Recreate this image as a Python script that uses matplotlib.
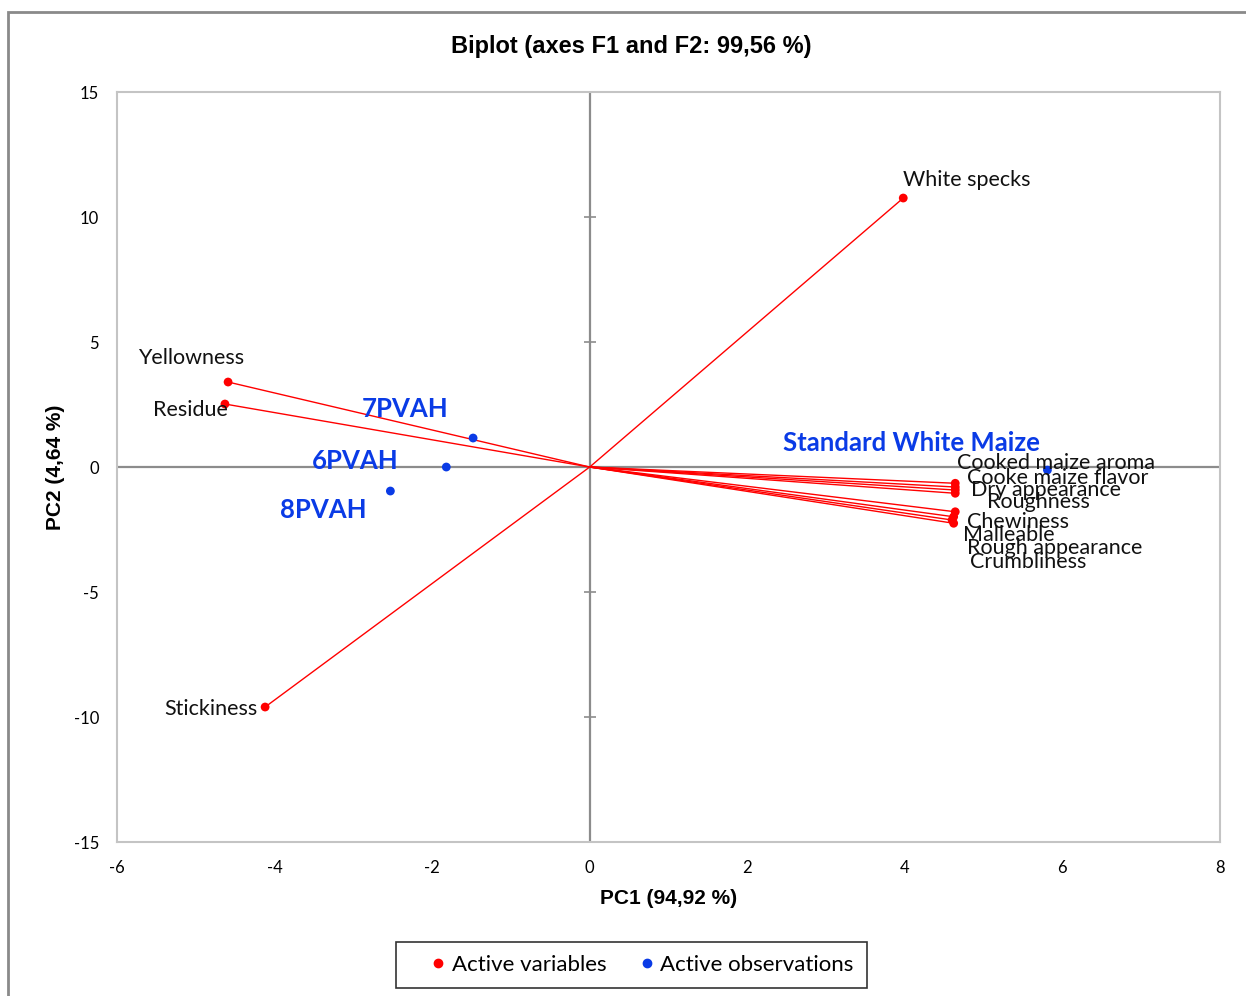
import matplotlib
matplotlib.use("Agg")
from matplotlib import pyplot as plt
from matplotlib.lines import Line2D
from matplotlib.patches import Rectangle

plt.rcParams["axes.unicode_minus"] = False

# Variable loadings (PC1, PC2)
variables = ["White specks", "Yellowness", "Residue", "Stickiness",
             "Cooked maize aroma", "Cooke maize flavor", "Dry appearance", "Roughness",
             "Chewiness", "Malleable", "Rough appearance", "Crumbliness"]
var_pc1 = [3.98, -4.59, -4.63, -4.12, 4.64, 4.64, 4.64, 4.64, 4.64, 4.62, 4.60, 4.62]
var_pc2 = [10.76, 3.40, 2.52, -9.60, -0.65, -0.80, -0.92, -1.05, -1.79, -1.99, -2.12, -2.25]

# Observation scores
observations = ["7PVAH", "6PVAH", "8PVAH", "Standard White Maize"]
obs_pc1 = [-1.48, -1.82, -2.53, 5.81]
obs_pc2 = [1.16, 0.0, -0.96, -0.12]

# label offsets in pixels from each point
var_offsets = [(0, 18), (-37, 24), (-34, -6), (-8, -2),
               (2, 20), (12, 9), (16, 0), (32, -9),
               (12, -10), (9, -18), (15, -28), (16, -39)]
var_ha = ["left", "center", "center", "right"] + ["left"] * 8
obs_offsets = [(-68, 29), (-91, 6), (-67, -19), (-136, 27)]

RED = "#FF0000"
BLUE = "#0A3BE6"
lbl_font = "Lato"

fig = plt.figure(figsize=(12.46, 9.96), dpi=100)
ax = fig.add_axes([0.0939, 0.1546, 0.8852, 0.753])

ax.set_xlim(-6, 8)
ax.set_ylim(-15, 15)
ax.set_xticks(range(-6, 9, 2))
ax.set_yticks(range(-15, 16, 5))
ax.tick_params(length=0, pad=13, labelsize=12)
for t in ax.get_xticklabels() + ax.get_yticklabels():
    t.set_fontfamily(lbl_font)
for s in ax.spines.values():
    s.set_color("#C4C4C4")
    s.set_linewidth(1.5)

# zero axes with small ticks
ax.axhline(0, color="#8C8C8C", lw=1.6, zorder=1)
ax.axvline(0, color="#8C8C8C", lw=1.6, zorder=1)
ax.plot([0] * 7, range(-15, 16, 5), ls="none", marker="_", ms=9, mew=1.2,
        color="#8C8C8C", zorder=1, clip_on=False)

# arrows from origin
for x, y in zip(var_pc1, var_pc2):
    ax.plot([0, x], [0, y], color=RED, lw=1.0, zorder=2)
ax.scatter(var_pc1, var_pc2, s=40, color=RED, zorder=3, edgecolors="none")
ax.scatter(obs_pc1, obs_pc2, s=40, color=BLUE, zorder=3, edgecolors="none")

for name, x, y, off, ha in zip(variables, var_pc1, var_pc2, var_offsets, var_ha):
    ax.annotate(name, (x, y), xytext=off, textcoords="offset pixels",
                ha=ha, va="center", fontsize=15.5, family=lbl_font, color="#111111", zorder=4)

for name, x, y, off in zip(observations, obs_pc1, obs_pc2, obs_offsets):
    ax.annotate(name, (x, y), xytext=off, textcoords="offset pixels",
                ha="center", va="center", fontsize=18.5, family=lbl_font,
                fontweight="bold", color=BLUE, zorder=4)

ax.set_xlabel("PC1 (94,92 %)", family="Liberation Sans", fontweight="bold",
              fontsize=15, labelpad=9)
ax.set_ylabel("PC2 (4,64 %)", family="Liberation Sans", fontweight="bold",
              fontsize=15, labelpad=6)
fig.text(0.507, 0.953, "Biplot (axes F1 and F2: 99,56 %)", ha="center", va="center",
         family="Liberation Sans", fontweight="bold", fontsize=17)

handles = [Line2D([], [], ls="none", marker="o", ms=6, color=RED),
           Line2D([], [], ls="none", marker="o", ms=6, color=BLUE)]
leg = fig.legend(handles, ["Active variables", "Active observations"], loc="center",
                 bbox_to_anchor=(0.5068, 0.0311), ncol=2, frameon=True, fancybox=False,
                 prop={"family": lbl_font, "size": 16}, handletextpad=-0.68,
                 columnspacing=0.5, handlelength=2.6, borderpad=0.6)
leg.get_frame().set_edgecolor("#000000")
leg.get_frame().set_linewidth(1.2)

# outer chart border
fig.patches.append(Rectangle((8 / 1246, -0.05), 1.1, 1 - 12 / 996 + 0.05,
                             transform=fig.transFigure, fill=False,
                             edgecolor="#8A8A8A", lw=2, figure=fig))

fig.savefig("out.png", dpi=100)
